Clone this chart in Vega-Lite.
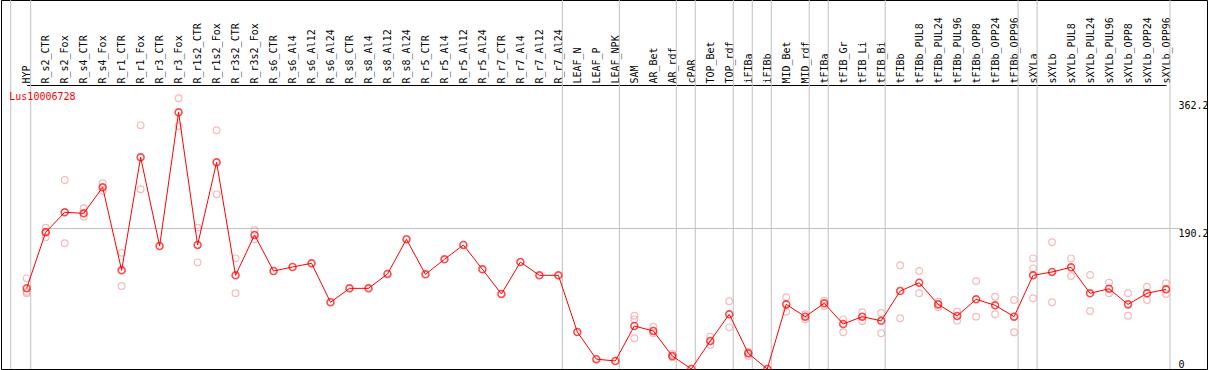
{
  "$schema": "https://vega.github.io/schema/vega-lite/v6.json",
  "width": 1206,
  "height": 369,
  "autosize": {"type": "none"},
  "padding": {"left": 1, "top": 0, "right": 2, "bottom": 1},
  "background": "white",
  "config": {
    "view": {"stroke": "black", "strokeWidth": 1},
    "axis": {"labelFont": "DejaVu Sans Mono", "labelFontSize": 10, "labelColor": "black"}
  },
  "datasets": {
    "means": [
      {"sample": "HYP", "value": 108.9},
      {"sample": "R_s2_CTR", "value": 184.4},
      {"sample": "R_s2_Fox", "value": 211.4},
      {"sample": "R_s4_CTR", "value": 210.0},
      {"sample": "R_s4_Fox", "value": 245.1},
      {"sample": "R_r1_CTR", "value": 133.1},
      {"sample": "R_r1_Fox", "value": 285.6},
      {"sample": "R_r3_CTR", "value": 165.9},
      {"sample": "R_r3_Fox", "value": 346.3},
      {"sample": "R_r1s2_CTR", "value": 167.3},
      {"sample": "R_r1s2_Fox", "value": 278.8},
      {"sample": "R_r3s2_CTR", "value": 126.4},
      {"sample": "R_r3s2_Fox", "value": 180.8},
      {"sample": "R_s6_CTR", "value": 132.2},
      {"sample": "R_s6_Al4", "value": 137.6},
      {"sample": "R_s6_Al12", "value": 142.6},
      {"sample": "R_s6_Al24", "value": 90.0},
      {"sample": "R_s8_CTR", "value": 108.8},
      {"sample": "R_s8_Al4", "value": 108.8},
      {"sample": "R_s8_Al12", "value": 128.2},
      {"sample": "R_s8_Al24", "value": 175.0},
      {"sample": "R_r5_CTR", "value": 127.7},
      {"sample": "R_r5_Al4", "value": 148.0},
      {"sample": "R_r5_Al12", "value": 167.3},
      {"sample": "R_r5_Al24", "value": 134.5},
      {"sample": "R_r7_CTR", "value": 101.2},
      {"sample": "R_r7_Al4", "value": 144.3},
      {"sample": "R_r7_Al12", "value": 126.4},
      {"sample": "R_r7_Al24", "value": 126.4},
      {"sample": "LEAF_N", "value": 49.9},
      {"sample": "LEAF_P", "value": 13.3},
      {"sample": "LEAF_NPK", "value": 10.8},
      {"sample": "SAM", "value": 58.0},
      {"sample": "AR_Bet", "value": 51.3},
      {"sample": "AR_rdf", "value": 17.5},
      {"sample": "cPAR", "value": 0.0},
      {"sample": "TOP_Bet", "value": 37.8},
      {"sample": "TOP_rdf", "value": 73.8},
      {"sample": "iFIBa", "value": 21.1},
      {"sample": "iFIBb", "value": 0.0},
      {"sample": "MID_Bet", "value": 87.2},
      {"sample": "MID_rdf", "value": 70.6},
      {"sample": "tFIBa", "value": 88.6},
      {"sample": "tFIB_Gr", "value": 60.7},
      {"sample": "tFIB_Li", "value": 70.6},
      {"sample": "tFIB_Bi", "value": 65.0},
      {"sample": "tFIBb", "value": 105.2},
      {"sample": "tFIBb_PUL8", "value": 116.4},
      {"sample": "tFIBb_PUL24", "value": 87.2},
      {"sample": "tFIBb_PUL96", "value": 71.5},
      {"sample": "tFIBb_OPP8", "value": 94.0},
      {"sample": "tFIBb_OPP24", "value": 85.9},
      {"sample": "tFIBb_OPP96", "value": 70.6},
      {"sample": "sXYLa", "value": 126.4},
      {"sample": "sXYLb", "value": 130.9},
      {"sample": "sXYLb_PUL8", "value": 137.2},
      {"sample": "sXYLb_PUL24", "value": 102.1},
      {"sample": "sXYLb_PUL96", "value": 108.3},
      {"sample": "sXYLb_OPP8", "value": 87.2},
      {"sample": "sXYLb_OPP24", "value": 102.1},
      {"sample": "sXYLb_OPP96", "value": 107.5}
    ],
    "reps": [
      {"sample": "HYP", "value": 122.3},
      {"sample": "HYP", "value": 104.3},
      {"sample": "HYP", "value": 102.1},
      {"sample": "R_s2_CTR", "value": 190.6},
      {"sample": "R_s2_CTR", "value": 177.6},
      {"sample": "R_s2_CTR", "value": 185.0},
      {"sample": "R_s2_Fox", "value": 255.0},
      {"sample": "R_s2_Fox", "value": 169.6},
      {"sample": "R_s4_CTR", "value": 216.8},
      {"sample": "R_s4_CTR", "value": 205.5},
      {"sample": "R_s4_Fox", "value": 250.5},
      {"sample": "R_s4_Fox", "value": 240.1},
      {"sample": "R_r1_CTR", "value": 156.9},
      {"sample": "R_r1_CTR", "value": 112.0},
      {"sample": "R_r1_Fox", "value": 328.7},
      {"sample": "R_r1_Fox", "value": 242.4},
      {"sample": "R_r3_Fox", "value": 365.2},
      {"sample": "R_r3_Fox", "value": 327.8},
      {"sample": "R_r1s2_CTR", "value": 190.6},
      {"sample": "R_r1s2_CTR", "value": 143.9},
      {"sample": "R_r1s2_Fox", "value": 322.0},
      {"sample": "R_r1s2_Fox", "value": 235.6},
      {"sample": "R_r3s2_CTR", "value": 149.3},
      {"sample": "R_r3s2_CTR", "value": 102.1},
      {"sample": "R_r3s2_Fox", "value": 187.5},
      {"sample": "R_r3s2_Fox", "value": 175.0},
      {"sample": "SAM", "value": 71.9},
      {"sample": "SAM", "value": 67.0},
      {"sample": "SAM", "value": 41.4},
      {"sample": "AR_Bet", "value": 57.1},
      {"sample": "AR_Bet", "value": 48.2},
      {"sample": "AR_rdf", "value": 20.2},
      {"sample": "AR_rdf", "value": 15.8},
      {"sample": "TOP_Bet", "value": 43.6},
      {"sample": "TOP_Bet", "value": 32.4},
      {"sample": "TOP_rdf", "value": 91.3},
      {"sample": "TOP_rdf", "value": 56.2},
      {"sample": "iFIBa", "value": 23.4},
      {"sample": "iFIBa", "value": 17.5},
      {"sample": "MID_Bet", "value": 96.7},
      {"sample": "MID_Bet", "value": 77.3},
      {"sample": "MID_rdf", "value": 73.8},
      {"sample": "MID_rdf", "value": 67.0},
      {"sample": "tFIBa", "value": 92.2},
      {"sample": "tFIBa", "value": 85.0},
      {"sample": "tFIB_Gr", "value": 67.0},
      {"sample": "tFIB_Gr", "value": 49.5},
      {"sample": "tFIB_Li", "value": 76.5},
      {"sample": "tFIB_Li", "value": 64.8},
      {"sample": "tFIB_Bi", "value": 75.6},
      {"sample": "tFIB_Bi", "value": 48.2},
      {"sample": "tFIBb", "value": 139.9},
      {"sample": "tFIBb", "value": 68.4},
      {"sample": "tFIBb_PUL8", "value": 132.2},
      {"sample": "tFIBb_PUL8", "value": 102.1},
      {"sample": "tFIBb_PUL24", "value": 90.8},
      {"sample": "tFIBb_PUL24", "value": 83.2},
      {"sample": "tFIBb_PUL96", "value": 77.3},
      {"sample": "tFIBb_PUL96", "value": 65.2},
      {"sample": "tFIBb_OPP8", "value": 118.7},
      {"sample": "tFIBb_OPP8", "value": 70.6},
      {"sample": "tFIBb_OPP24", "value": 97.5},
      {"sample": "tFIBb_OPP24", "value": 73.8},
      {"sample": "tFIBb_OPP96", "value": 93.1},
      {"sample": "tFIBb_OPP96", "value": 49.5},
      {"sample": "sXYLa", "value": 149.3},
      {"sample": "sXYLa", "value": 135.8},
      {"sample": "sXYLa", "value": 95.4},
      {"sample": "sXYLb", "value": 170.9},
      {"sample": "sXYLb", "value": 90.0},
      {"sample": "sXYLb_PUL8", "value": 149.3},
      {"sample": "sXYLb_PUL8", "value": 125.5},
      {"sample": "sXYLb_PUL24", "value": 126.8},
      {"sample": "sXYLb_PUL24", "value": 78.2},
      {"sample": "sXYLb_PUL96", "value": 116.4},
      {"sample": "sXYLb_PUL96", "value": 102.1},
      {"sample": "sXYLb_OPP8", "value": 102.1},
      {"sample": "sXYLb_OPP8", "value": 71.9},
      {"sample": "sXYLb_OPP24", "value": 111.0},
      {"sample": "sXYLb_OPP24", "value": 93.1},
      {"sample": "sXYLb_OPP96", "value": 115.6},
      {"sample": "sXYLb_OPP96", "value": 101.2}
    ],
    "seps": [
      {"sample": "HYP"},
      {"sample": "R_r7_Al24"},
      {"sample": "LEAF_NPK"},
      {"sample": "AR_rdf"},
      {"sample": "cPAR"},
      {"sample": "TOP_rdf"},
      {"sample": "iFIBa"},
      {"sample": "iFIBb"},
      {"sample": "MID_rdf"},
      {"sample": "tFIBa"},
      {"sample": "tFIB_Bi"},
      {"sample": "tFIBb_OPP96"},
      {"sample": "sXYLa"},
      {"sample": "sXYLb_OPP96"}
    ],
    "first": [{"sample": "HYP"}],
    "gene": [{"sample": "HYP", "value": 367, "name": "Lus10006728"}]
  },
  "layer": [
    {
      "data": {"name": "seps"},
      "mark": {"type": "rule", "color": "#c0c0c0", "strokeWidth": 1, "xOffset": 4},
      "encoding": {
        "x": {
          "field": "sample",
          "type": "nominal",
          "scale": {
            "type": "point",
            "padding": 0,
            "range": [25.7, 1165],
            "domain": ["HYP","R_s2_CTR","R_s2_Fox","R_s4_CTR","R_s4_Fox","R_r1_CTR","R_r1_Fox","R_r3_CTR","R_r3_Fox","R_r1s2_CTR","R_r1s2_Fox","R_r3s2_CTR","R_r3s2_Fox","R_s6_CTR","R_s6_Al4","R_s6_Al12","R_s6_Al24","R_s8_CTR","R_s8_Al4","R_s8_Al12","R_s8_Al24","R_r5_CTR","R_r5_Al4","R_r5_Al12","R_r5_Al24","R_r7_CTR","R_r7_Al4","R_r7_Al12","R_r7_Al24","LEAF_N","LEAF_P","LEAF_NPK","SAM","AR_Bet","AR_rdf","cPAR","TOP_Bet","TOP_rdf","iFIBa","iFIBb","MID_Bet","MID_rdf","tFIBa","tFIB_Gr","tFIB_Li","tFIB_Bi","tFIBb","tFIBb_PUL8","tFIBb_PUL24","tFIBb_PUL96","tFIBb_OPP8","tFIBb_OPP24","tFIBb_OPP96","sXYLa","sXYLb","sXYLb_PUL8","sXYLb_PUL24","sXYLb_PUL96","sXYLb_OPP8","sXYLb_OPP24","sXYLb_OPP96"]
          },
          "axis": {
            "orient": "top",
            "offset": -85,
            "title": null,
            "labelAngle": 270,
            "labelPadding": 2,
            "labelOverlap": false,
            "ticks": false,
            "grid": false,
            "domainColor": "black",
            "domainWidth": 1
          }
        }
      }
    },
    {
      "data": {"name": "first"},
      "mark": {"type": "rule", "color": "#c0c0c0", "strokeWidth": 1, "xOffset": -16},
      "encoding": {"x": {"field": "sample", "type": "nominal"}}
    },
    {
      "data": {"name": "reps"},
      "mark": {"type": "point", "shape": "circle", "filled": false, "color": "#f0a0a0", "size": 45, "strokeWidth": 1.2},
      "encoding": {
        "x": {"field": "sample", "type": "nominal"},
        "y": {
          "field": "value",
          "type": "quantitative",
          "scale": {"domain": [0, 497.8], "nice": false, "zero": true},
          "axis": {
            "orient": "right",
            "offset": -29,
            "title": null,
            "values": [0, 190.2, 362.2],
            "labelExpr": "datum.value == 0 ? '0' : format(datum.value, '.1f')",
            "ticks": false,
            "domain": false,
            "labelPadding": 0,
            "labelAlign": "left",
            "labelBaseline": {"condition": {"test": "datum.value == 0", "value": "bottom"}, "value": "top"},
            "grid": true,
            "gridColor": {"condition": {"test": "datum.value == 190.2", "value": "#c0c0c0"}, "value": "transparent"},
            "gridWidth": 1
          }
        }
      }
    },
    {
      "data": {"name": "means"},
      "mark": {"type": "line", "color": "#ff0000", "strokeWidth": 1},
      "encoding": {
        "x": {"field": "sample", "type": "nominal"},
        "y": {"field": "value", "type": "quantitative"}
      }
    },
    {
      "data": {"name": "means"},
      "mark": {"type": "point", "shape": "circle", "filled": false, "color": "#ff0000", "size": 48, "strokeWidth": 1.6},
      "encoding": {
        "x": {"field": "sample", "type": "nominal"},
        "y": {"field": "value", "type": "quantitative"}
      }
    },
    {
      "data": {"name": "gene"},
      "mark": {"type": "text", "color": "#ff0000", "font": "DejaVu Sans Mono", "fontSize": 10, "align": "left", "baseline": "middle", "dx": -17.4},
      "encoding": {
        "x": {"field": "sample", "type": "nominal"},
        "y": {"field": "value", "type": "quantitative"},
        "text": {"field": "name"}
      }
    }
  ]
}
